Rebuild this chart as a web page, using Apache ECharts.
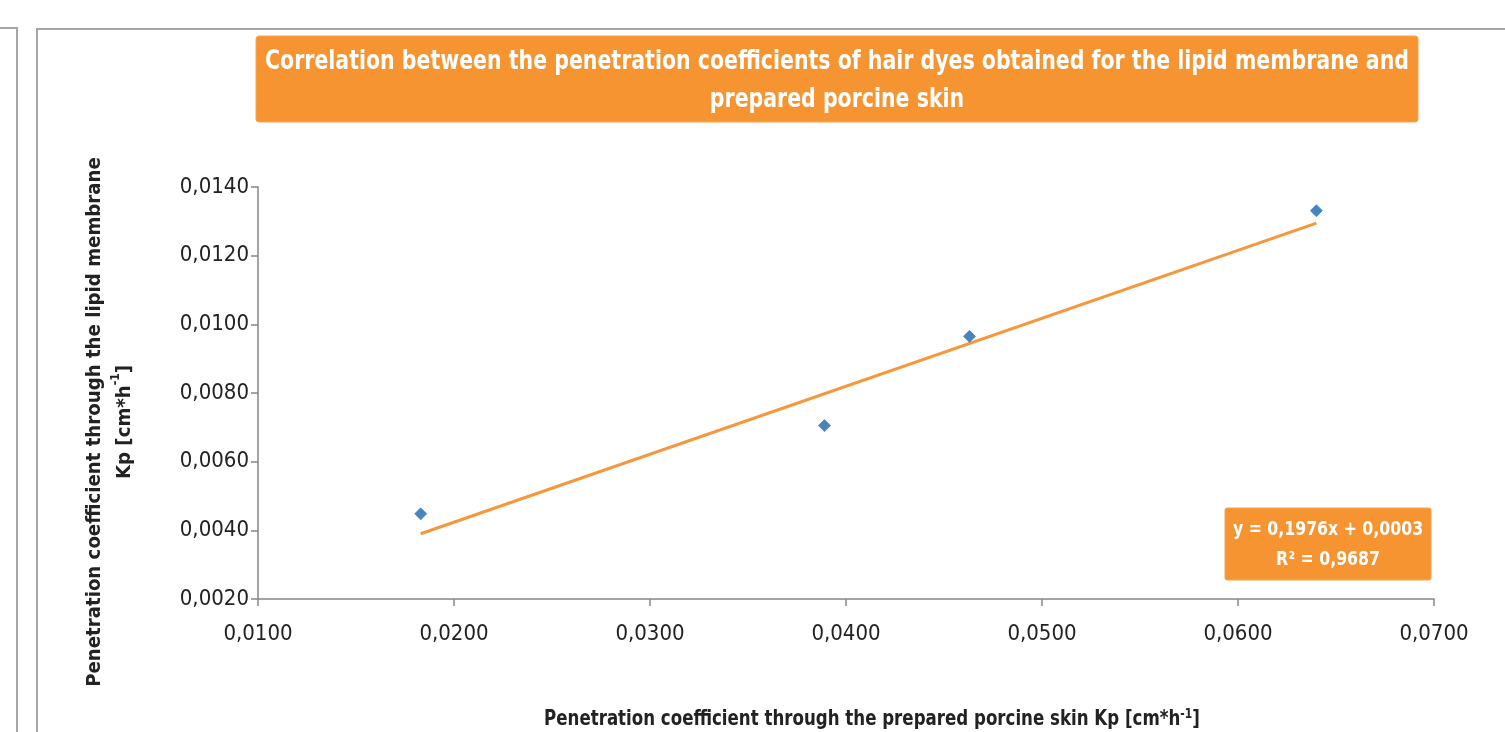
<!DOCTYPE html>
<html><head><meta charset="utf-8">
<script src="https://cdn.jsdelivr.net/npm/echarts@6/dist/echarts.min.js"></script>
<style>html,body{margin:0;padding:0;background:#fff}#c{width:1505px;height:732px}</style>
</head><body><div id="c"></div>
<script>
// Data
const skinKp  = [0.0183, 0.0389, 0.0463, 0.0640];   // x: porcine skin Kp
const lipidKp = [0.00448, 0.00705, 0.00965, 0.01331]; // y: lipid membrane Kp
const trendX  = [0.0183, 0.0640];
const trendY  = [0.0039, 0.01295];
const xTicks  = [0.01, 0.07, 0.01];   // min, max, interval
const yTicks  = [0.002, 0.014, 0.002];
const titleLines = ['Correlation between the penetration coefficients of hair dyes obtained for the lipid membrane and', 'prepared porcine skin'];
const eqLines = ['y = 0,1976x + 0,0003', 'R² = 0,9687'];
const xName = 'Penetration coefficient through the prepared porcine skin Kp [cm*h{sup|-1}]';
const yName = 'Penetration coefficient through the lipid membrane\nKp [cm*h{sup|-1}]';

const FONT = '"Liberation Sans Narrow", "DejaVu Sans Condensed", "Liberation Sans", sans-serif';
const fmt = v => v.toFixed(4).replace('.', ',');
const pts = skinKp.map((x, i) => [x, lipidKp[i]]);
const trend = trendX.map((x, i) => [x, trendY[i]]);

const chart = echarts.init(document.getElementById('c'), null, {renderer: 'canvas'});
const ORANGE = '#F59430';
const FRAME = '#a6a6a6';
const TXT = '#222222';
const supRich = {sup: {fontSize: 12, fontWeight: 'bold', fontFamily: FONT, fill: TXT, verticalAlign: 'top', padding: [0, 0, 10, 0]}};
chart.setOption({
  animation: false,
  backgroundColor: '#fff',
  grid: {left: 258, right: 71, top: 187, bottom: 133, outerBoundsMode: 'none', containLabel: false},
  xAxis: {
    type: 'value', min: xTicks[0], max: xTicks[1], interval: xTicks[2],
    axisLine: {lineStyle: {color: '#868686', width: 1.5}},
    axisTick: {show: true, length: 7, lineStyle: {color: '#868686', width: 1.5}},
    splitLine: {show: false},
    axisLabel: {formatter: fmt, color: TXT, fontSize: 22, fontFamily: FONT, margin: 24}
  },
  yAxis: {
    type: 'value', min: yTicks[0], max: yTicks[1], interval: yTicks[2],
    axisLine: {show: true, lineStyle: {color: '#868686', width: 1.5}},
    axisTick: {show: true, length: 7, lineStyle: {color: '#868686', width: 1.5}},
    splitLine: {show: false},
    axisLabel: {formatter: fmt, color: TXT, fontSize: 22, fontFamily: FONT, margin: 9}
  },
  series: [
    {type: 'line', data: trend, showSymbol: false, symbol: 'none',
     lineStyle: {color: '#F7963A', width: 3}, z: 2},
    {type: 'scatter', data: pts, symbol: 'diamond', symbolSize: 12,
     itemStyle: {color: '#1b66ab', borderColor: '#3a8cd0', borderWidth: 1}, z: 3}
  ],
  graphic: [
    {type: 'polyline', shape: {points: [[0, 28], [17, 28], [17, 732]]}, style: {stroke: FRAME, lineWidth: 2, fill: null}},
    {type: 'polyline', shape: {points: [[37, 740], [37, 29], [1510, 29]]}, style: {stroke: FRAME, lineWidth: 2, fill: null}},
    {type: 'rect', shape: {x: 256, y: 36, width: 1162, height: 86, r: 3}, style: {fill: ORANGE, stroke: '#f7a552', lineWidth: 1}},
    {type: 'text', x: 837, y: 62, scaleY: 1.15, style: {text: titleLines[0], x: 0, y: 0, fill: '#fff', font: 'bold 22.8px ' + FONT, textAlign: 'center', textVerticalAlign: 'middle'}},
    {type: 'text', x: 837, y: 100, scaleY: 1.15, style: {text: titleLines[1], x: 0, y: 0, fill: '#fff', font: 'bold 22.8px ' + FONT, textAlign: 'center', textVerticalAlign: 'middle'}},
    {type: 'rect', shape: {x: 1225, y: 508, width: 206, height: 72, r: 2}, style: {fill: ORANGE, stroke: '#f7a552', lineWidth: 1}},
    {type: 'text', x: 1328, y: 530, scaleY: 1.1, style: {text: eqLines[0], x: 0, y: 0, fill: '#fff', font: 'bold 17.5px ' + FONT, textAlign: 'center', textVerticalAlign: 'middle'}},
    {type: 'text', x: 1328, y: 560, scaleY: 1.1, style: {text: eqLines[1], x: 0, y: 0, fill: '#fff', font: 'bold 17.5px ' + FONT, textAlign: 'center', textVerticalAlign: 'middle'}},
    {type: 'text', x: 872, y: 720, scaleY: 1.12, style: {text: xName, x: 0, y: 0, fill: TXT, font: 'bold 18.5px ' + FONT, align: 'center', verticalAlign: 'middle', rich: supRich}},
    {type: 'text', x: 110, y: 422, rotation: Math.PI / 2, style: {text: yName, x: 0, y: 0, fill: TXT, font: 'bold 20.2px ' + FONT, lineHeight: 30, align: 'center', verticalAlign: 'middle', rich: supRich}}
  ]
});
</script></body></html>
